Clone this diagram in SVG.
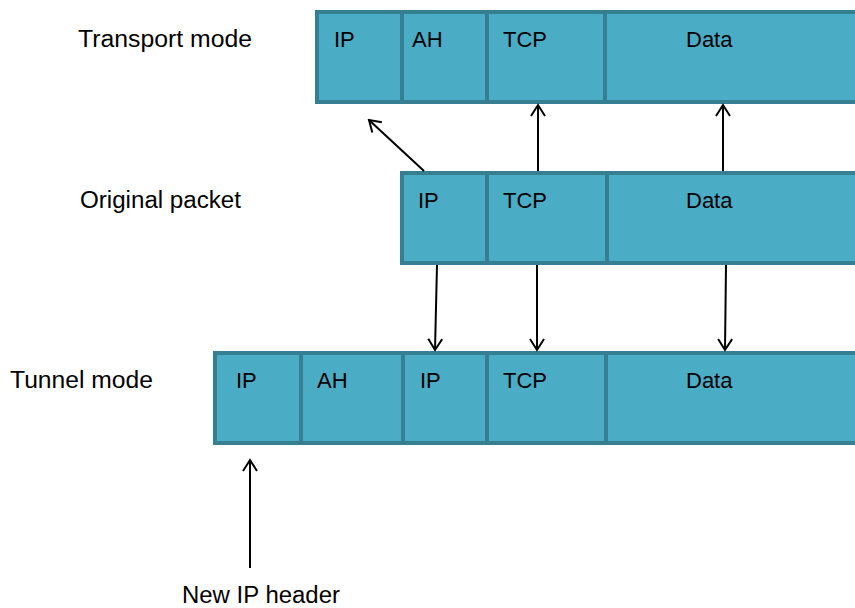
<svg xmlns="http://www.w3.org/2000/svg" width="855" height="608" viewBox="0 0 855 608">
  <style>
    .cell { fill: #4bacc6; stroke: #367e91; stroke-width: 4; }
    .lbl { font-family: "Liberation Sans", Arial, sans-serif; font-size: 23px; fill: #000; }
    .ctx { font-family: "Liberation Sans", Arial, sans-serif; font-size: 22px; fill: #000; }
    .conn { stroke: #000; stroke-width: 2; fill: none; marker-end: url(#arr); }
  </style>
  <defs>
    <marker id="arr" viewBox="-12 -8 14 16" markerWidth="14" markerHeight="16" refX="0" refY="0" orient="auto" markerUnits="userSpaceOnUse">
      <path d="M-11,-7 L0,0 L-11,7" stroke="#000" stroke-width="2" fill="none"/>
    </marker>
  </defs>

  <rect width="855" height="608" fill="#fff"/>

  <!-- row labels -->
  <text class="lbl" x="78" y="47" textLength="174" lengthAdjust="spacingAndGlyphs">Transport mode</text>
  <text class="lbl" x="80" y="208" textLength="161" lengthAdjust="spacingAndGlyphs">Original packet</text>
  <text class="lbl" x="10" y="388" textLength="143" lengthAdjust="spacingAndGlyphs">Tunnel mode</text>
  <text class="lbl" x="182" y="603" textLength="158" lengthAdjust="spacingAndGlyphs">New IP header</text>

  <!-- transport mode packet -->
  <g id="transport">
    <rect class="cell" x="317" y="12" width="85" height="90"/>
    <rect class="cell" x="402" y="12" width="85" height="90"/>
    <rect class="cell" x="487" y="12" width="118" height="90"/>
    <rect class="cell" x="605" y="12" width="260" height="90"/>
    <text class="ctx" x="334" y="47">IP</text>
    <text class="ctx" x="412" y="47">AH</text>
    <text class="ctx" x="503" y="47">TCP</text>
    <text class="ctx" x="686" y="47">Data</text>
  </g>

  <!-- original packet -->
  <g id="original">
    <rect class="cell" x="402" y="173" width="85" height="90"/>
    <rect class="cell" x="487" y="173" width="120" height="90"/>
    <rect class="cell" x="607" y="173" width="258" height="90"/>
    <text class="ctx" x="418" y="208">IP</text>
    <text class="ctx" x="503" y="208">TCP</text>
    <text class="ctx" x="686" y="208">Data</text>
  </g>

  <!-- tunnel mode packet -->
  <g id="tunnel">
    <rect class="cell" x="215" y="353" width="86" height="90"/>
    <rect class="cell" x="301" y="353" width="102" height="90"/>
    <rect class="cell" x="403" y="353" width="84" height="90"/>
    <rect class="cell" x="487" y="353" width="119" height="90"/>
    <rect class="cell" x="606" y="353" width="259" height="90"/>
    <text class="ctx" x="236" y="388">IP</text>
    <text class="ctx" x="317" y="388">AH</text>
    <text class="ctx" x="420" y="388">IP</text>
    <text class="ctx" x="503" y="388">TCP</text>
    <text class="ctx" x="686" y="388">Data</text>
  </g>

  <!-- connectors -->
  <g id="connectors">
    <line class="conn" x1="424" y1="171" x2="369" y2="120"/>
    <line class="conn" x1="538" y1="171" x2="538" y2="105"/>
    <line class="conn" x1="723" y1="171" x2="723" y2="105"/>
    <line class="conn" x1="437" y1="265" x2="435" y2="350"/>
    <line class="conn" x1="537" y1="265" x2="537" y2="350"/>
    <line class="conn" x1="726" y1="265" x2="725" y2="350"/>
    <line class="conn" x1="250" y1="568" x2="250" y2="460"/>
  </g>
</svg>
